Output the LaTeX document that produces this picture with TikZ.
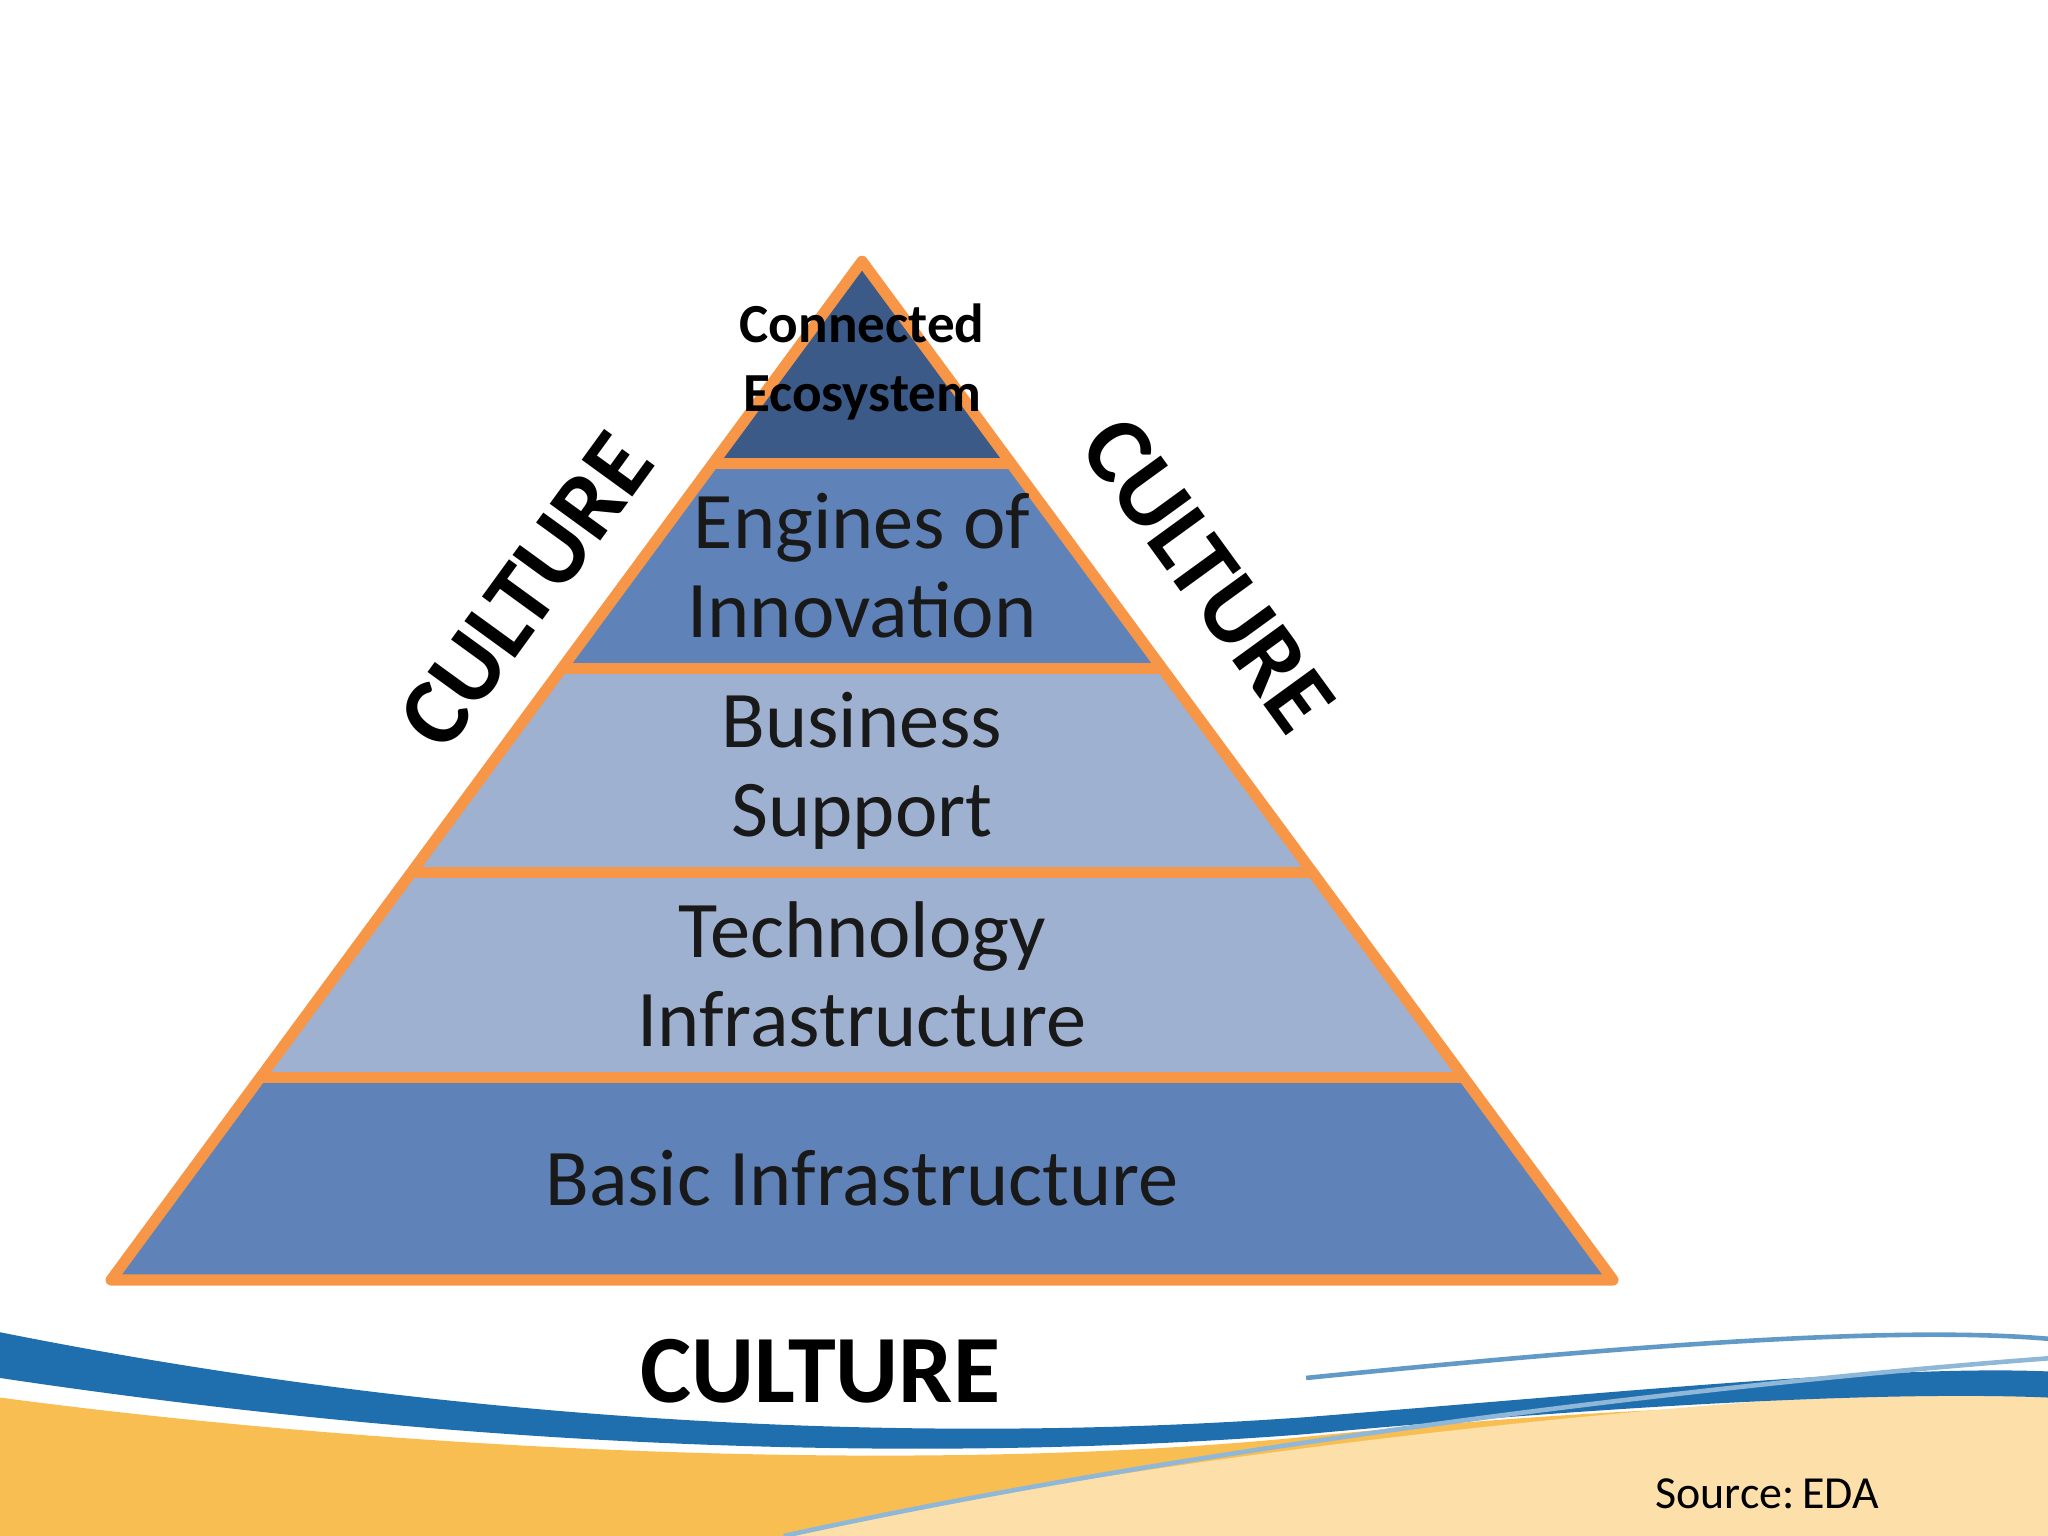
\documentclass[tikz,border=0pt]{standalone}
\usepackage{fontspec}
\setmainfont{Carlito}
\begin{document}
\begin{tikzpicture}[x=0.01cm,y=-0.01cm,
  lbl/.style={align=center,font=\fontsize{17.5}{19.5}\selectfont,text=black!90},
  cult/.style={font=\bfseries\fontsize{21}{25}\selectfont}]
\useasboundingbox (0,0) rectangle (1568,1176);
\definecolor{org}{HTML}{F79646}
\definecolor{dk}{HTML}{3C5A87}
\definecolor{md}{HTML}{5F83B9}
\definecolor{lt}{HTML}{9FB1D1}
\definecolor{wb}{HTML}{1F6FAF}
\definecolor{wy}{HTML}{F9BE52}
% waves
\fill[wy] (0,1070) .. controls (300,1110) and (700,1130) .. (1000,1100) .. controls (1250,1075) and (1450,1070) .. (1568,1080) -- (1568,1176) -- (0,1176) -- cycle;
\fill[wy!50!white] (600,1176) .. controls (900,1110) and (1300,1070) .. (1568,1060) -- (1568,1176) -- cycle;
\fill[wb] (0,1020) .. controls (300,1080) and (650,1110) .. (1000,1085) .. controls (1250,1065) and (1450,1045) .. (1568,1050) -- (1568,1070) .. controls (1450,1065) and (1250,1075) .. (1000,1098) .. controls (650,1125) and (300,1100) .. (0,1055) -- cycle;
\draw[wb!70!white,line width=1pt] (1000,1055) .. controls (1250,1030) and (1450,1015) .. (1568,1025);
\draw[wb!50!white,line width=1pt] (600,1176) .. controls (900,1110) and (1300,1060) .. (1568,1040);
% pyramid bands
\begin{scope}
\clip (660,200) -- (1235,980) -- (85,980) -- cycle;
\fill[dk] (0,190) rectangle (1568,355);
\fill[md] (0,355) rectangle (1568,512);
\fill[lt] (0,512) rectangle (1568,825);
\fill[md] (0,825) rectangle (1568,990);
\end{scope}
\coordinate (A) at (660,200);
\coordinate (L) at (85,980);
\coordinate (R) at (1235,980);
\foreach \y in {355,512,668,825}{
  \draw[draw=org,line width=2.4pt] ({660-0.737*(\y-200)},\y) -- ({660+0.737*(\y-200)},\y);}
\draw[draw=org,line width=2.4pt,line join=round] (A) -- (R) -- (L) -- cycle;
% texts
\node[align=center,font=\bfseries\fontsize{12}{15}\selectfont] (t1) at (660,277) {Connected\\Ecosystem};
\node[lbl] (t2) at (660,433) {Engines of\\Innovation};
\node[lbl] (t3) at (660,590) {Business\\Support};
\node[lbl] (t4) at (660,746) {Technology\\Infrastructure};
\node[lbl] (t5) at (660,902) {Basic Infrastructure};
\node[cult] (c1) at (403,452) [rotate=54] {CULTURE};
\node[cult] (c2) at (925,440) [rotate=-54] {CULTURE};
\node[cult] (c3) at (628,1050) {CULTURE};
\node[font=\fontsize{10}{12}\selectfont] (src) at (1353,1144) {Source:\,EDA};
\end{tikzpicture}
\end{document}
